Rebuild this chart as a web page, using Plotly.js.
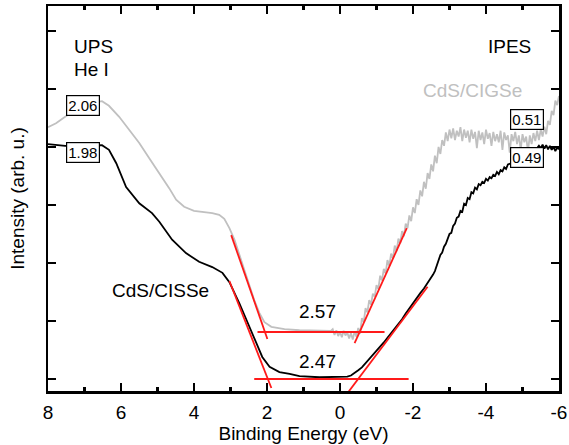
<!DOCTYPE html>
<html>
<head>
<meta charset="utf-8">
<script src="https://cdn.plot.ly/plotly-3.0.1.min.js"></script>
<style>html,body{margin:0;padding:0;background:#fff;}#chart{width:569px;height:445px;}</style>
</head>
<body>
<div id="chart"></div>
<script>
// ---- Data (binding energy in eV, intensity in arb. units) ----
const xTickVals = [8, 6, 4, 2, 0, -2, -4, -6];
const xTickText = ["8", "6", "4", "2", "0", "-2", "-4", "-6"];

const grayUpsX = [8.00,7.78,7.53,7.01,6.52,6.33,6.05,5.78,5.50,5.23,4.95,4.68,4.49,4.27,4.00,3.72,3.50,3.31,3.17,3.03,2.89,2.62,2.35,2.21,2.07,1.88,1.52,1.11,0.56,0.25];
const grayUpsY = [4.34,4.41,4.52,4.74,4.79,4.71,4.52,4.29,4.07,3.81,3.55,3.29,3.09,2.97,2.90,2.88,2.86,2.83,2.76,2.60,2.40,1.88,1.36,1.14,0.98,0.90,0.86,0.84,0.84,0.83];

const grayIpesX = [0.20,0.15,0.10,0.05,0.00,-0.05,-0.10,-0.15,-0.20,-0.25,-0.30,-0.35,-0.40,-0.45,-0.50,-0.55,-0.60,-0.65,-0.70,-0.75,-0.80,-0.85,-0.90,-0.95,-1.00,-1.05,-1.10,-1.15,-1.20,-1.25,-1.30,-1.35,-1.40,-1.45,-1.50,-1.55,-1.60,-1.65,-1.70,-1.75,-1.80,-1.85,-1.90,-1.95,-2.00,-2.05,-2.10,-2.15,-2.20,-2.25,-2.30,-2.35,-2.40,-2.45,-2.50,-2.55,-2.60,-2.65,-2.70,-2.75,-2.80,-2.85,-2.90,-2.95,-3.00,-3.05,-3.10,-3.15,-3.20,-3.25,-3.30,-3.35,-3.40,-3.45,-3.50,-3.55,-3.60,-3.65,-3.70,-3.75,-3.80,-3.85,-3.90,-3.95,-4.00,-4.05,-4.10,-4.15,-4.20,-4.25,-4.30,-4.35,-4.40,-4.45,-4.50,-4.55,-4.60,-4.65,-4.70,-4.75,-4.80,-4.85,-4.90,-4.95,-5.00,-5.05,-5.10,-5.15,-5.20,-5.25,-5.30,-5.35,-5.40,-5.45,-5.50,-5.55,-5.60,-5.65,-5.70,-5.75,-5.80,-5.85,-5.90,-5.95,-6.00];
const grayIpesY = [0.86,0.76,0.84,0.74,0.81,0.72,0.83,0.75,0.80,0.70,0.79,0.68,0.82,0.73,0.88,0.78,1.05,0.98,1.22,1.15,1.36,1.28,1.47,1.42,1.62,1.55,1.78,1.70,1.90,1.82,2.05,1.95,2.16,2.08,2.30,2.20,2.42,2.34,2.55,2.46,2.68,2.60,2.82,2.72,2.96,2.86,3.10,3.00,3.25,3.15,3.40,3.28,3.55,3.45,3.70,3.58,3.85,3.72,4.00,3.88,4.12,4.02,4.25,4.10,4.30,4.15,4.32,4.12,4.28,4.18,4.34,4.10,4.30,4.16,4.28,4.08,4.30,4.14,4.26,3.98,4.28,4.12,4.25,4.05,4.30,4.14,4.24,4.02,4.26,4.10,4.22,4.08,4.28,3.95,4.25,4.12,4.20,3.90,4.22,4.10,4.26,4.05,4.20,3.95,4.22,4.08,4.18,3.92,4.20,4.05,4.24,4.10,4.28,4.12,4.30,4.18,4.35,4.22,4.45,4.38,4.62,4.55,4.80,4.72,4.88];

const blackUpsX = [8.00,7.78,7.53,7.01,6.52,6.33,6.13,5.86,5.50,5.15,4.95,4.60,4.22,3.86,3.50,3.22,3.03,2.76,2.40,2.13,1.93,1.66,1.38,1.11,0.56,0.01];
const blackUpsY = [4.05,4.03,4.02,4.02,4.03,3.95,3.72,3.31,3.03,2.86,2.71,2.40,2.17,2.02,1.93,1.83,1.67,1.31,0.79,0.38,0.21,0.12,0.09,0.05,0.03,0.03];

const blackIpesX = [-0.10,-0.20,-0.30,-0.40,-0.50,-0.60,-0.70,-0.80,-0.90,-1.00,-1.10,-1.20,-1.30,-1.40,-1.50,-1.60,-1.70,-1.80,-1.90,-2.00,-2.10,-2.20,-2.30,-2.40,-2.50,-2.55,-2.60,-2.65,-2.70,-2.75,-2.80,-2.85,-2.90,-2.95,-3.00,-3.05,-3.10,-3.15,-3.20,-3.25,-3.30,-3.35,-3.40,-3.45,-3.50,-3.55,-3.60,-3.65,-3.70,-3.75,-3.80,-3.85,-3.90,-3.95,-4.00,-4.05,-4.10,-4.15,-4.20,-4.25,-4.30,-4.35,-4.40,-4.45,-4.50,-4.55,-4.60,-4.70,-4.80,-4.90,-5.00,-5.10,-5.20,-5.30,-5.40,-5.45,-5.50,-5.55,-5.60,-5.65,-5.70,-5.75,-5.80,-5.85,-5.90,-5.95,-6.00];
const blackIpesY = [0.03,0.04,0.06,0.10,0.15,0.20,0.27,0.34,0.41,0.48,0.56,0.63,0.71,0.79,0.86,0.94,1.03,1.13,1.22,1.32,1.40,1.48,1.56,1.65,1.74,1.80,1.86,1.95,2.02,2.14,2.18,2.28,2.33,2.40,2.50,2.52,2.64,2.68,2.78,2.80,2.90,2.88,3.02,3.00,3.12,3.10,3.22,3.20,3.30,3.27,3.36,3.34,3.40,3.38,3.45,3.42,3.48,3.46,3.52,3.50,3.57,3.53,3.60,3.58,3.65,3.62,3.70,3.72,3.78,3.84,3.88,3.92,3.95,3.97,3.98,4.02,3.98,4.04,3.97,4.03,3.96,4.02,3.95,4.00,3.93,3.99,3.96];

// Linear onset fits (red)
const fitGrayUpsX = [2.98, 1.99];   const fitGrayUpsY = [2.48, 0.69];
const fitGrayBaseX = [2.26, -1.22]; const fitGrayBaseY = [0.81, 0.81];
const fitGrayIpesX = [-0.40, -1.83]; const fitGrayIpesY = [0.62, 2.60];
const fitBlackUpsX = [3.03, 1.88];  const fitBlackUpsY = [1.69, -0.155];
const fitBlackBaseX = [2.35, -1.88]; const fitBlackBaseY = [0.0, 0.0];
const fitBlackIpesX = [-0.21, -2.40]; const fitBlackIpesY = [-0.24, 1.59];

// Labels
const gapLabels = ["2.57", "2.47"];
const gapLabelX = [0.62, 0.62];
const gapLabelY = [1.17, 0.31];
const boxLabels = ["2.06", "1.98", "0.51", "0.49"];
const boxLabelX = [7.04, 7.04, -5.12, -5.12];
const boxLabelY = [4.72, 3.91, 4.47, 3.81];

const FONT = "Liberation Sans, Arial, sans-serif";
const GRAY = "#c0c0c0";
const RED = "#ff1a1a";

function curve(x, y, color, w) {
  return {x: x, y: y, type: 'scatter', mode: 'lines', line: {color: color, width: w}, hoverinfo: 'skip'};
}

const traces = [
  curve(grayUpsX.concat(grayIpesX), grayUpsY.concat(grayIpesY), GRAY, 1.8),
  curve(blackUpsX.concat(blackIpesX), blackUpsY.concat(blackIpesY), '#000000', 1.8),
  curve(fitGrayUpsX, fitGrayUpsY, RED, 1.8),
  curve(fitGrayBaseX, fitGrayBaseY, RED, 1.8),
  curve(fitGrayIpesX, fitGrayIpesY, RED, 1.8),
  curve(fitBlackUpsX, fitBlackUpsY, RED, 1.8),
  curve(fitBlackBaseX, fitBlackBaseY, RED, 1.8),
  curve(fitBlackIpesX, fitBlackIpesY, RED, 1.8)
];

const annotations = [];
gapLabels.forEach((t, i) => annotations.push({
  x: gapLabelX[i], y: gapLabelY[i], xref: 'x', yref: 'y', text: t, showarrow: false,
  font: {family: FONT, size: 19, color: '#000'}
}));
boxLabels.forEach((t, i) => annotations.push({
  x: boxLabelX[i], y: boxLabelY[i], xref: 'x', yref: 'y', text: t, showarrow: false,
  font: {family: FONT, size: 15, color: '#000'}, bgcolor: '#fff', bordercolor: '#000', borderwidth: 1.2, borderpad: 1
}));
annotations.push({x: 4.93, y: 1.52, xref: 'x', yref: 'y', text: 'CdS/CISSe', showarrow: false, font: {family: FONT, size: 19, color: '#000'}});
annotations.push({x: -3.64, y: 4.97, xref: 'x', yref: 'y', text: 'CdS/CIGSe', showarrow: false, font: {family: FONT, size: 19, color: GRAY}});
annotations.push({x: 0.047, y: 0.927, xref: 'paper', yref: 'paper', xanchor: 'left', text: 'UPS', showarrow: false, font: {family: FONT, size: 19, color: '#000'}});
annotations.push({x: 0.047, y: 0.868, xref: 'paper', yref: 'paper', xanchor: 'left', text: 'He I', showarrow: false, font: {family: FONT, size: 19, color: '#000'}});
annotations.push({x: 0.949, y: 0.927, xref: 'paper', yref: 'paper', xanchor: 'right', text: 'IPES', showarrow: false, font: {family: FONT, size: 19, color: '#000'}});

const layout = {
  width: 569, height: 445,
  margin: {l: 48, r: 10, t: 6, b: 54},
  paper_bgcolor: '#fff', plot_bgcolor: '#fff',
  showlegend: false,
  font: {family: FONT, size: 19, color: '#000'},
  xaxis: {
    range: [8, -6], autorange: false,
    tickmode: 'array', tickvals: xTickVals, ticktext: xTickText,
    ticks: 'inside', ticklen: 8, tickwidth: 2.5, tickcolor: '#000',
    minor: {tickmode: 'linear', tick0: 0, dtick: 1, ticks: 'inside', ticklen: 4, tickwidth: 2.5, tickcolor: '#000'},
    showline: true, linewidth: 2.5, linecolor: '#000', mirror: 'ticks',
    showgrid: false, zeroline: false,
    tickfont: {family: FONT, size: 19, color: '#000'},
    ticklabelstandoff: 3,
    ticklabeloverflow: 'allow',
    title: {text: 'Binding Energy (eV)', font: {family: FONT, size: 19, color: '#000'}, standoff: 0}
  },
  yaxis: {
    range: [-0.207, 6.43], autorange: false,
    tick0: 0, dtick: 1, ticks: 'inside', ticklen: 8, tickwidth: 2.5, tickcolor: '#000',
    showticklabels: false,
    showline: true, linewidth: 2.5, linecolor: '#000', mirror: 'ticks',
    showgrid: false, zeroline: false,
    title: {text: 'Intensity (arb. u.)', font: {family: FONT, size: 19, color: '#000'}, standoff: 16}
  },
  annotations: annotations
};

Plotly.newPlot('chart', traces, layout, {staticPlot: true, displayModeBar: false});
</script>
</body>
</html>
